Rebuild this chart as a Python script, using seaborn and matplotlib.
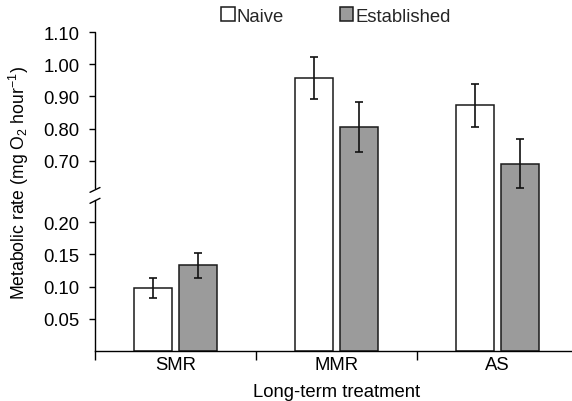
import numpy as np
import pandas as pd
import matplotlib
matplotlib.use("Agg")
import matplotlib.pyplot as plt
from matplotlib.patches import Patch
from matplotlib.lines import Line2D
import seaborn as sns

# ---- data ----
treatments = ["SMR", "MMR", "AS"]
groups = ["Naive", "Established"]
naive_mean = [0.098, 0.957, 0.873]
naive_err = [0.016, 0.064, 0.067]
estab_mean = [0.133, 0.805, 0.690]
estab_err = [0.0195, 0.078, 0.078]
upper_ticks = [0.70, 0.80, 0.90, 1.00, 1.10]
lower_ticks = [0.05, 0.10, 0.15, 0.20]

df = pd.DataFrame({
    "treatment": treatments * 2,
    "group": ["Naive"] * 3 + ["Established"] * 3,
    "rate": naive_mean + estab_mean,
    "err": naive_err + estab_err,
})

sns.set_theme(style="white")
plt.rcParams["font.family"] = ["Liberation Sans", "DejaVu Sans"]
plt.rcParams["mathtext.fontset"] = "custom"
plt.rcParams["mathtext.rm"] = "Liberation Sans"
plt.rcParams["mathtext.it"] = "Liberation Sans:italic"
plt.rcParams["mathtext.bf"] = "Liberation Sans:bold"

FS = 13.3
W, H = 572, 402
fig = plt.figure(figsize=(W / 100, H / 100), dpi=100)
ax = fig.add_axes([95 / W, 50 / H, 483 / W, 319 / H])

# broken axis: piecewise linear scale
B1, B2 = 0.2337, 0.6155
T1, T2 = 150.5, 163.0


def fwd(v):
    v = np.asarray(v, dtype=float)
    return np.where(v <= B1, v * 644.0,
                    np.where(v >= B2, 319.0 - (1.10 - v) * 322.0,
                             T1 + (v - B1) / (B2 - B1) * (T2 - T1)))


def inv(t):
    t = np.asarray(t, dtype=float)
    return np.where(t <= T1, t / 644.0,
                    np.where(t >= T2, 1.10 - (319.0 - t) / 322.0,
                             B1 + (t - T1) / (T2 - T1) * (B2 - B1)))


ax.set_yscale("function", functions=(fwd, inv))

palette = {"Naive": "white", "Established": "#9b9b9b"}
sns.barplot(data=df, x="treatment", y="rate", hue="group", order=treatments,
            hue_order=groups, palette=palette, width=0.56, gap=0.16,
            edgecolor="#1a1a1a", linewidth=1.1, errorbar=None, legend=False, ax=ax)

# error bars at bar centres
for cont, g in zip(ax.containers, groups):
    sub = df[df.group == g].set_index("treatment").loc[treatments]
    xs = [b.get_x() + b.get_width() / 2 for b in cont]
    ax.errorbar(xs, sub["rate"].values, yerr=sub["err"].values, fmt="none",
                ecolor="#111111", elinewidth=1.2, capsize=2.6, capthick=1.2, zorder=5)

ax.set_ylim(0, 1.10)
ax.set_xlim(-0.5, 2.5)
ax.set_yticks(lower_ticks + upper_ticks)
ax.set_yticklabels([f"{t:.2f}" for t in lower_ticks + upper_ticks], fontsize=FS, color="black")
ax.yaxis.set_minor_locator(matplotlib.ticker.NullLocator())
ax.tick_params(axis="y", which="major", direction="out", length=4.3, width=1.0,
               color="black", pad=7.0, left=True)

ax.set_xticks(range(3))
ax.set_xticklabels(treatments, fontsize=FS, color="black")
ax.set_xticks([-0.5, 0.5, 1.5, 2.5], minor=True)
ax.tick_params(axis="x", which="major", length=0, pad=3.5)
ax.tick_params(axis="x", which="minor", direction="out", length=6.5, width=1.0,
               color="black", bottom=True)

for s in ["top", "right", "left"]:
    ax.spines[s].set_visible(False)
ax.spines["bottom"].set_color("black")
ax.spines["bottom"].set_linewidth(1.0)

# left spine in two pieces
yt = ax.get_yaxis_transform()
ax.plot([0, 0], [0, B1], transform=yt, color="black", lw=1.0, clip_on=False, zorder=6)
ax.plot([0, 0], [B2, 1.10], transform=yt, color="black", lw=1.0, clip_on=False, zorder=6)

# break marks (decoration)
for (x0, y0, x1, y1) in [(90, 193.3, 100, 188.5), (90, 204.3, 100, 199.3)]:
    fig.add_artist(Line2D([x0 / W, x1 / W], [1 - y0 / H, 1 - y1 / H],
                          transform=fig.transFigure, color="black", lw=1.0))

ax.set_xlabel("Long-term treatment", fontsize=FS, color="black", labelpad=7)
ax.set_ylabel(r"Metabolic rate (mg O$_2$ hour$^{-1}$)", fontsize=12.7, color="black")
ax.yaxis.set_label_coords(-0.132, 0.531)

handles = [Patch(facecolor=palette[g], edgecolor="#1a1a1a", linewidth=1.1) for g in groups]
fig.legend(handles, groups, loc="center", bbox_to_anchor=(336 / W, 1 - 17 / H),
           ncol=2, frameon=False, fontsize=FS, handlelength=0.72, handleheight=0.72,
           handletextpad=0.12, columnspacing=3.0, borderpad=0, borderaxespad=0)

fig.savefig("out.png", dpi=100)
